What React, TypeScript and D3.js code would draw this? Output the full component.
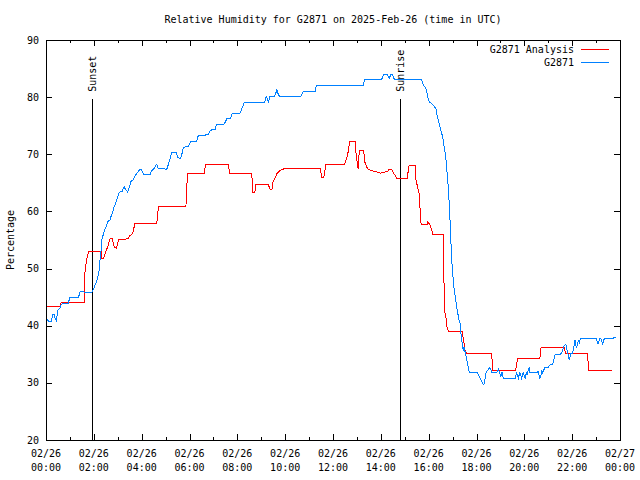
import React from "react";
import * as d3 from "d3";

const TITLE = "Relative Humidity for G2871 on 2025-Feb-26 (time in UTC)";
const Y_LABEL = "Percentage";
const DAY_START = "2025-02-26T00:00:00Z";
const DAY_END = "2025-02-27T00:00:00Z";
const Y_DOMAIN = [20, 90];
const yTicks = [20, 30, 40, 50, 60, 70, 80, 90];
const seriesNames = ["G2871 Analysis", "G2871"];
const seriesColors = ["#ff0000", "#0080ff"];

const sunEventNames = ["Sunset", "Sunrise"];
const sunEventTimes = ["01:55", "14:48"];
const sunEventTopValue = 79.7;

// minutes after 00:00 UTC
const analysisMinutes = [
  0, 35, 38, 96, 98, 102, 104, 107, 138, 140, 144, 147, 150, 152, 156, 159, 161, 166, 169, 171,
  177, 180, 182, 207, 209, 214, 218, 223, 278, 282, 351, 355, 397, 400, 457, 461, 516, 519, 524, 527,
  557, 562, 567, 570, 575, 579, 584, 594, 602, 688, 692, 697, 702, 749, 752, 757, 762, 776, 778, 783,
  786, 797, 800, 805, 810, 820, 830, 840, 850, 857, 861, 866, 869, 873, 877, 880, 906, 911, 927, 928,
  936, 941, 957, 958, 963, 966, 971, 997, 998, 1001, 1003, 1006, 1010, 1044, 1046, 1049, 1051, 1056, 1118, 1121,
  1178, 1183, 1239, 1242, 1300, 1303, 1358, 1362, 1419,
];
const analysisValues = [
  43.3, 43.3, 44.0, 44.0, 49.8, 51.6, 52.1, 53.0, 53.0, 51.8, 51.7, 52.2, 53.0, 53.3, 54.1, 55.0, 55.3, 55.3, 54.4, 53.8,
  53.6, 54.4, 55.1, 55.2, 55.7, 55.9, 56.3, 57.9, 57.9, 60.8, 60.8, 66.7, 66.7, 68.2, 68.2, 66.7, 66.7, 63.4, 63.4, 64.8,
  64.8, 63.9, 63.9, 65.3, 65.9, 66.6, 67.0, 67.4, 67.5, 67.5, 65.9, 65.9, 68.2, 68.2, 68.9, 70.0, 72.3, 72.3, 70.0, 67.5,
  70.6, 70.6, 68.6, 67.7, 67.3, 67.1, 66.9, 66.7, 66.9, 67.0, 67.4, 67.4, 67.1, 66.6, 66.2, 65.8, 65.8, 68.1, 68.1, 65.5,
  63.2, 57.7, 57.7, 58.2, 57.7, 57.1, 55.9, 55.9, 48.5, 42.2, 41.6, 39.8, 39.0, 39.0, 38.1, 36.9, 35.8, 35.1, 35.1, 32.1,
  32.1, 34.3, 34.3, 36.2, 36.2, 35.2, 35.2, 32.1, 32.1,
];

const observedMinutes = [
  0, 6, 14, 16, 21, 23, 27, 28, 31, 35, 38, 41, 56, 58, 60, 81, 84, 86, 94, 96,
  115, 119, 123, 127, 131, 134, 135, 138, 141, 144, 146, 150, 152, 155, 158, 161, 163, 166, 169, 171,
  175, 177, 180, 183, 186, 191, 194, 196, 200, 205, 208, 211, 213, 216, 219, 222, 225, 228, 232, 236,
  238, 242, 244, 247, 261, 263, 267, 269, 272, 275, 278, 280, 282, 303, 305, 309, 313, 315, 325, 328,
  330, 334, 338, 340, 343, 344, 349, 357, 360, 363, 376, 380, 382, 407, 411, 416, 424, 426, 428, 447,
  451, 453, 462, 466, 467, 487, 489, 492, 495, 497, 548, 551, 552, 556, 558, 562, 574, 577, 579, 581,
  585, 640, 643, 646, 675, 677, 679, 796, 798, 800, 842, 845, 848, 855, 859, 861, 865, 868, 871, 874,
  941, 944, 947, 951, 954, 957, 959, 963, 968, 972, 975, 979, 981, 984, 987, 990, 992, 995, 997, 999,
  1003, 1005, 1008, 1009, 1011, 1014, 1016, 1018, 1019, 1022, 1024, 1028, 1030, 1033, 1036, 1039, 1040, 1043, 1045, 1047,
  1049, 1052, 1055, 1058, 1060, 1062, 1082, 1085, 1089, 1093, 1096, 1099, 1101, 1104, 1106, 1110, 1112, 1116, 1118, 1131,
  1135, 1137, 1139, 1141, 1144, 1146, 1147, 1177, 1179, 1181, 1183, 1185, 1187, 1189, 1192, 1193, 1196, 1197, 1200, 1202,
  1204, 1206, 1208, 1210, 1213, 1214, 1231, 1235, 1237, 1239, 1242, 1243, 1246, 1249, 1252, 1260, 1264, 1271, 1273, 1275,
  1277, 1290, 1294, 1296, 1300, 1304, 1306, 1309, 1311, 1313, 1315, 1317, 1320, 1323, 1325, 1327, 1329, 1331, 1333, 1336,
  1338, 1340, 1342, 1381, 1383, 1385, 1388, 1390, 1394, 1396, 1398, 1401, 1423, 1426, 1429,
];
const observedValues = [
  41.4, 40.8, 40.8, 41.9, 41.9, 41.3, 40.8, 42.2, 42.9, 43.0, 43.7, 43.9, 43.9, 44.5, 45.0, 45.0, 45.5, 46.0, 46.0, 45.9,
  45.9, 46.3, 47.1, 47.8, 48.9, 50.0, 51.3, 53.0, 55.5, 55.9, 56.5, 57.2, 57.6, 58.2, 58.4, 58.5, 59.1, 59.7, 60.3, 60.8,
  61.4, 62.0, 62.6, 63.2, 63.4, 63.5, 64.1, 64.3, 63.8, 63.4, 64.1, 64.6, 65.2, 65.4, 65.5, 66.1, 66.4, 66.7, 67.0, 67.4,
  67.4, 67.0, 66.6, 66.4, 66.4, 66.8, 67.3, 67.4, 67.6, 68.0, 68.3, 67.8, 67.5, 67.4, 67.8, 68.7, 69.7, 70.4, 70.4, 70.1,
  69.5, 69.3, 69.3, 69.9, 70.5, 71.1, 71.3, 71.3, 71.8, 72.2, 72.2, 72.7, 73.3, 73.4, 74.0, 74.3, 74.3, 74.8, 75.3, 75.3,
  75.8, 76.2, 76.3, 76.7, 77.2, 77.2, 77.5, 78.1, 78.6, 79.0, 79.0, 79.6, 80.1, 79.6, 79.2, 80.2, 80.2, 80.8, 81.3, 80.8,
  80.2, 80.2, 80.7, 81.0, 81.0, 81.6, 82.1, 82.1, 82.7, 83.1, 83.1, 83.6, 84.0, 84.0, 83.6, 83.3, 83.9, 84.0, 83.6, 83.1,
  83.1, 82.7, 82.1, 81.8, 81.3, 80.4, 79.5, 79.1, 78.8, 78.5, 78.3, 77.8, 76.9, 76.0, 75.1, 74.3, 73.8, 73.1, 72.2, 71.1,
  69.6, 67.6, 65.5, 64.3, 62.0, 57.9, 54.4, 52.1, 49.8, 48.0, 46.3, 44.5, 43.3, 42.2, 41.0, 40.4, 39.3, 37.5, 36.3, 35.8,
  36.3, 35.2, 34.3, 33.2, 32.5, 31.8, 31.8, 31.4, 30.8, 30.2, 29.8, 29.8, 30.6, 31.7, 32.0, 32.3, 32.7, 32.3, 31.8, 31.8,
  32.4, 32.0, 31.6, 31.1, 31.8, 31.4, 30.8, 30.8, 31.4, 31.8, 31.2, 30.8, 31.4, 31.8, 31.2, 30.8, 31.4, 31.8, 31.2, 30.8,
  31.4, 31.8, 31.4, 32.4, 32.7, 31.8, 31.8, 32.0, 31.4, 30.8, 31.4, 32.3, 31.8, 32.3, 32.7, 32.7, 33.1, 33.3, 33.7, 34.3,
  34.9, 35.0, 35.2, 35.8, 36.5, 36.8, 36.1, 35.2, 34.6, 34.0, 34.6, 35.2, 35.2, 35.8, 36.6, 37.5, 36.6, 36.1, 36.8, 37.5,
  36.8, 37.6, 37.8, 37.8, 37.2, 36.8, 37.5, 37.8, 37.5, 36.8, 37.2, 37.8, 37.8, 38.0, 38.0,
];

const FONT = "'DejaVu Sans Mono', monospace";
const W = 640;
const H = 480;
const PL = 46;
const PR = 620;
const PT = 40;
const PB = 440;

const startMs = Date.parse(DAY_START);
const toDate = (m: number) => new Date(startMs + m * 60000);
const hmToMin = (s: string) => {
  const [h, m] = s.split(":").map(Number);
  return h * 60 + m;
};

export default function App() {
  const x = d3.scaleUtc().domain([new Date(DAY_START), new Date(DAY_END)]).range([PL, PR]);
  const y = d3.scaleLinear().domain(Y_DOMAIN).range([PB, PT]);

  const line = d3
    .line<[number, number]>()
    .x((d) => x(toDate(d[0])))
    .y((d) => y(d[1]));

  const analysis = analysisMinutes.map((m, i) => [m, analysisValues[i]] as [number, number]);
  const observed = observedMinutes.map((m, i) => [m, observedValues[i]] as [number, number]);

  const minorTicks = x.ticks(d3.utcHour.every(1)!);
  const majorTicks = x.ticks(d3.utcHour.every(2)!);
  const fmtDate = d3.utcFormat("%m/%d");
  const fmtTime = d3.utcFormat("%H:%M");

  return (
    <svg
      width={W}
      height={H}
      style={{ position: "absolute", left: 0, top: 0, background: "#fff" }}
      fontFamily={FONT}
      fontSize={10}
    >
      <rect x={0} y={0} width={W} height={H} fill="#fff" />
      <g shapeRendering="crispEdges" stroke="#000" strokeWidth={1}>
        {minorTicks.map((t, i) => (
          <g key={"mt" + i}>
            <line x1={Math.round(x(t)) + 0.5} x2={Math.round(x(t)) + 0.5} y1={PB} y2={PB - 3} />
            <line x1={Math.round(x(t)) + 0.5} x2={Math.round(x(t)) + 0.5} y1={PT} y2={PT + 3} />
          </g>
        ))}
        {majorTicks.map((t, i) => (
          <g key={"Mt" + i}>
            <line x1={Math.round(x(t)) + 0.5} x2={Math.round(x(t)) + 0.5} y1={PB} y2={PB - 6} />
            <line x1={Math.round(x(t)) + 0.5} x2={Math.round(x(t)) + 0.5} y1={PT} y2={PT + 6} />
          </g>
        ))}
        {yTicks.map((v) => (
          <g key={"yt" + v}>
            <line x1={PL} x2={PL + 6} y1={Math.round(y(v)) + 0.5} y2={Math.round(y(v)) + 0.5} />
            <line x1={PR} x2={PR - 6} y1={Math.round(y(v)) + 0.5} y2={Math.round(y(v)) + 0.5} />
          </g>
        ))}
        {sunEventTimes.map((s, i) => {
          const xx = Math.round(x(toDate(hmToMin(s)))) + 0.5;
          return <line key={"sl" + i} x1={xx} x2={xx} y1={y(Y_DOMAIN[0])} y2={y(sunEventTopValue)} />;
        })}
      </g>

      <g fill="#000">
        {sunEventTimes.map((s, i) => {
          const xx = x(toDate(hmToMin(s)));
          return (
            <text key={"st" + i} transform={`translate(${xx + 4.5},${y(sunEventTopValue) - 7}) rotate(-90)`} textAnchor="start">
              {sunEventNames[i]}
            </text>
          );
        })}
        {yTicks.map((v) => (
          <text key={"yl" + v} x={39} y={y(v) + 3.5} textAnchor="end">
            {v}
          </text>
        ))}
        {majorTicks.map((t, i) => (
          <text key={"xl" + i} x={x(t)} textAnchor="middle">
            <tspan x={x(t)} y={457}>{fmtDate(t)}</tspan>
            <tspan x={x(t)} y={471}>{fmtTime(t)}</tspan>
          </text>
        ))}
        <text x={(PL + PR) / 2} y={23} textAnchor="middle">
          {TITLE}
        </text>
        <text transform={`translate(14,${(PT + PB) / 2}) rotate(-90)`} textAnchor="middle">
          {Y_LABEL}
        </text>
        {seriesNames.map((n, i) => (
          <text key={"lg" + i} x={574} y={53 + i * 13} textAnchor="end">
            {n}
          </text>
        ))}
      </g>

      <g shapeRendering="crispEdges" fill="none" strokeWidth={1}>
        {seriesNames.map((n, i) => (
          <line key={"ls" + i} x1={581} x2={609} y1={49.5 + i * 13} y2={49.5 + i * 13} stroke={seriesColors[i]} />
        ))}
        <path d={line(analysis) || ""} stroke={seriesColors[0]} />
        <path d={line(observed) || ""} stroke={seriesColors[1]} />
        <rect x={PL + 0.5} y={PT + 0.5} width={PR - PL} height={PB - PT} stroke="#000" />
      </g>
    </svg>
  );
}
